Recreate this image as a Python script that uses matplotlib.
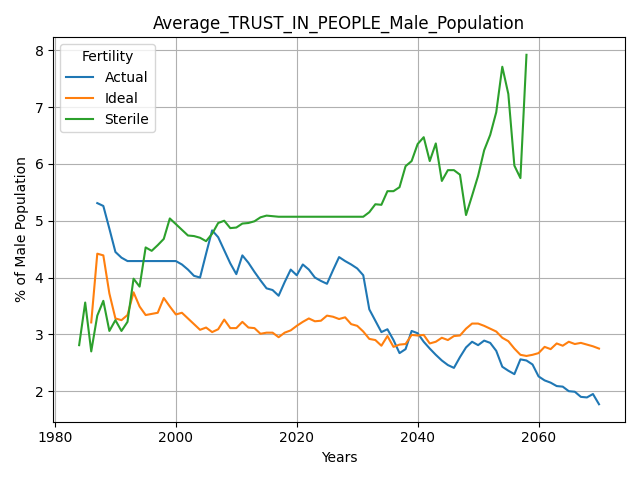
import numpy as np
import matplotlib
matplotlib.use("Agg")
import matplotlib.pyplot as plt

# Actual: 1987-2070
actual_years = list(range(1987, 2071))
actual = [5.31, 5.26, 4.86, 4.45, 4.35, 4.29, 4.29, 4.29, 4.29, 4.29,
          4.29, 4.29, 4.29, 4.29, 4.23, 4.14, 4.03, 4.00, 4.42, 4.83,
          4.71, 4.48, 4.25, 4.06, 4.39, 4.26, 4.10, 3.95, 3.81, 3.78,
          3.68, 3.92, 4.14, 4.04, 4.23, 4.14, 4.00, 3.94, 3.89, 4.13,
          4.36, 4.29, 4.23, 4.16, 4.04, 3.44, 3.24, 3.04, 3.09, 2.90,
          2.67, 2.74, 3.06, 3.02, 2.87, 2.75, 2.64, 2.54, 2.46, 2.41,
          2.60, 2.77, 2.87, 2.81, 2.89, 2.85, 2.71, 2.43, 2.36, 2.30,
          2.56, 2.54, 2.47, 2.26, 2.19, 2.15, 2.09, 2.08, 2.00, 1.99,
          1.90, 1.89, 1.95, 1.77]

# Ideal: 1986-2070
ideal_years = list(range(1986, 2071))
ideal = [3.21, 4.42, 4.39, 3.72, 3.28, 3.25, 3.34, 3.74, 3.49, 3.34,
         3.36, 3.38, 3.64, 3.49, 3.35, 3.38, 3.28, 3.18, 3.08, 3.12,
         3.04, 3.09, 3.26, 3.11, 3.11, 3.22, 3.12, 3.11, 3.01, 3.03,
         3.03, 2.95, 3.03, 3.07, 3.15, 3.22, 3.28, 3.23, 3.24, 3.33,
         3.31, 3.27, 3.30, 3.18, 3.15, 3.05, 2.92, 2.90, 2.80, 2.97,
         2.78, 2.82, 2.83, 2.99, 2.98, 2.99, 2.84, 2.87, 2.94, 2.90,
         2.97, 2.98, 3.10, 3.19, 3.19, 3.15, 3.10, 3.05, 2.94, 2.88,
         2.75, 2.64, 2.62, 2.64, 2.67, 2.78, 2.74, 2.84, 2.80, 2.87,
         2.83, 2.85, 2.82, 2.79, 2.75]

# Sterile: 1984-2058
sterile_years = list(range(1984, 2059))
sterile = [2.81, 3.56, 2.70, 3.33, 3.59, 3.06, 3.25, 3.06, 3.22, 3.98,
           3.84, 4.53, 4.47, 4.57, 4.68, 5.04, 4.94, 4.84, 4.74, 4.73,
           4.70, 4.64, 4.77, 4.96, 5.00, 4.87, 4.88, 4.95, 4.96, 4.99,
           5.06, 5.09, 5.08, 5.07, 5.07, 5.07, 5.07, 5.07, 5.07, 5.07,
           5.07, 5.07, 5.07, 5.07, 5.07, 5.07, 5.07, 5.07, 5.15, 5.29,
           5.28, 5.52, 5.52, 5.59, 5.96, 6.05, 6.35, 6.47, 6.05, 6.36,
           5.70, 5.89, 5.89, 5.81, 5.10, 5.44, 5.79, 6.24, 6.51, 6.91,
           7.71, 7.23, 5.97, 5.75, 7.92]

fig, ax = plt.subplots(figsize=(6.4, 4.8), dpi=100)
ax.plot(actual_years, actual, label="Actual")
ax.plot(ideal_years, ideal, label="Ideal")
ax.plot(sterile_years, sterile, label="Sterile")

ax.set_title("Average_TRUST_IN_PEOPLE_Male_Population")
ax.set_xlabel("Years")
ax.set_ylabel("% of Male Population")
ax.grid(True)
ax.legend(title="Fertility", loc="upper left")

fig.tight_layout()
fig.savefig("out.png")
